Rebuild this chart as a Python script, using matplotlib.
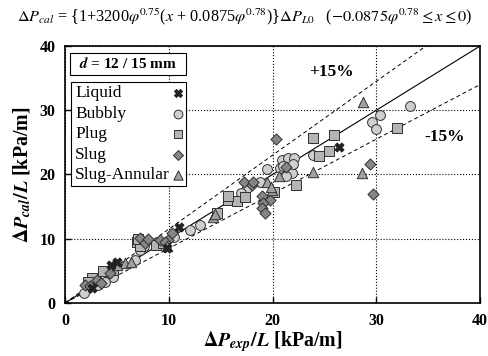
import matplotlib.pyplot as plt
from matplotlib.patches import Rectangle
import numpy as np

plt.rcParams['font.family'] = ['Liberation Serif', 'DejaVu Serif']
plt.rcParams['mathtext.fontset'] = 'stix'

# measured vs. calculated pressure gradient [kPa/m], by flow regime
liquid_exp = [26.4, 11.0, 9.8, 5.0, 4.4, 2.6]
liquid_cal = [24.3, 11.8, 8.5, 6.3, 5.9, 2.3]

bubbly_exp = [33.25, 30.3, 29.6, 30.0, 23.9, 20.9, 21.5, 22.1, 20.7, 21.85, 21.3,
              19.45, 18.8, 17.5, 17.0, 13.0, 12.05, 10.5, 7.2, 6.7, 4.65, 3.85,
              2.25, 2.6, 22.0, 21.0, 8.9, 1.8, 7.6, 3.2]
bubbly_cal = [30.7, 29.3, 28.2, 27.1, 23.05, 22.3, 22.5, 22.5, 21.0, 20.3, 19.7,
              20.9, 18.9, 17.9, 17.1, 12.15, 11.4, 10.3, 8.3, 6.7, 4.1, 3.3,
              2.3, 3.3, 21.7, 21.3, 9.5, 1.6, 8.9, 2.8]

plug_exp = [32.0, 23.9, 25.9, 25.4, 24.45, 22.3, 20.1, 15.7, 16.6, 17.35, 14.6,
            15.7, 6.9, 7.2, 8.8, 3.7, 2.6, 4.6, 9.4, 7.0, 2.2]
plug_cal = [27.15, 25.6, 26.2, 23.7, 22.9, 18.3, 17.2, 16.0, 15.8, 16.55, 14.0,
            16.6, 9.55, 8.8, 9.0, 4.9, 3.85, 5.2, 9.4, 10.0, 3.3]

slug_exp = [20.3, 21.3, 29.4, 29.7, 17.2, 18.0, 18.95, 19.75, 19.1, 18.95, 19.3,
            18.1, 9.95, 7.2, 7.7, 10.3, 9.15, 9.6, 4.3, 3.05, 1.9, 8.0, 3.5, 2.4]
slug_cal = [25.5, 21.2, 21.6, 16.9, 18.9, 18.4, 16.6, 16.0, 15.5, 14.75, 14.0,
            18.9, 9.8, 10.1, 9.3, 10.9, 9.8, 9.55, 4.6, 3.6, 2.8, 10.0, 3.1, 2.6]

sa_exp = [28.75, 23.9, 28.65, 20.65, 19.45, 19.9, 14.3, 14.45, 5.8, 6.4, 5.0, 9.8, 19.8]
sa_cal = [31.2, 20.45, 20.3, 19.7, 18.9, 17.6, 13.4, 13.9, 6.2, 6.4, 5.9, 8.8, 18.0]

regimes = ['Liquid', 'Bubbly', 'Plug', 'Slug', 'Slug-Annular']
# marker, size, face colour per regime
styles = {
    'Liquid': ('X', 42, '#222222'),
    'Bubbly': ('o', 50, '#cfcfcf'),
    'Plug': ('s', 46, '#b4b4b4'),
    'Slug': ('D', 32, '#858585'),
    'Slug-Annular': ('^', 56, '#a0a0a0'),
}
data = {
    'Liquid': (liquid_exp, liquid_cal),
    'Bubbly': (bubbly_exp, bubbly_cal),
    'Plug': (plug_exp, plug_cal),
    'Slug': (slug_exp, slug_cal),
    'Slug-Annular': (sa_exp, sa_cal),
}

fig = plt.figure(figsize=(4.89, 3.56), dpi=100)
ax = fig.add_axes([0.133, 0.149, 0.849, 0.722])

# 1:1 line and +/-15 % bands
line = np.array([0, 40])
ax.plot(line, line, color='black', lw=0.8, zorder=1)
ax.plot(line, 1.15 * line, color='black', lw=0.7, ls=(0, (4, 3)), zorder=1)
ax.plot(line, 0.85 * line, color='black', lw=0.7, ls=(0, (4, 3)), zorder=1)

for name in regimes:
    m, s, fc = styles[name]
    ec = fc if name == 'Liquid' else '#303030'
    ax.scatter(*data[name], marker=m, s=s, color=fc, edgecolor=ec, lw=0.7,
               zorder=3 if name == 'Liquid' else 2)

ax.set_xlim(0, 40)
ax.set_ylim(0, 40)
ax.set_xticks([0, 10, 20, 30, 40])
ax.set_yticks([0, 10, 20, 30, 40])
ax.grid(True, color='black', ls=':', lw=0.8)
ax.tick_params(direction='in', length=4, labelsize=11.5, width=1, pad=7)
for lab in ax.get_xticklabels() + ax.get_yticklabels():
    lab.set_fontweight('bold')
for sp in ax.spines.values():
    sp.set_linewidth(1.2)

ax.set_xlabel(r'$\mathbf{\Delta}\boldsymbol{P}_{\boldsymbol{exp}}\boldsymbol{/L}$ [kPa/m]',
              fontsize=14.3, fontweight='bold', labelpad=0)
ax.set_ylabel(r'$\mathbf{\Delta}\boldsymbol{P}_{\boldsymbol{cal}}\boldsymbol{/L}$ [kPa/m]',
              fontsize=14.3, fontweight='bold', labelpad=4)

ax.text(25.7, 36, '+15%', fontsize=12.5, fontweight='bold', ha='center', va='center')
ax.text(36.6, 25.9, '-15%', fontsize=12.5, fontweight='bold', ha='center', va='center')

# diameter box
ax.add_patch(Rectangle((0.012, 0.885), 0.28, 0.089, transform=ax.transAxes,
                       fc='white', ec='black', lw=0.8, zorder=5))
ax.text(0.152, 0.93, r'$\boldsymbol{d}$ = 12 / 15 mm', transform=ax.transAxes,
        fontsize=11, fontweight='bold', ha='center', va='center', zorder=6)

# legend: labels on the left, symbols on the right
ax.add_patch(Rectangle((0.014, 0.455), 0.278, 0.405, transform=ax.transAxes,
                       fc='white', ec='black', lw=0.8, zorder=5))
for i, name in enumerate(regimes):
    y = 0.816 - i * 0.080
    m, s, fc = styles[name]
    ec = fc if name == 'Liquid' else '#303030'
    ax.text(0.024, y, name, transform=ax.transAxes, fontsize=12.5,
            ha='left', va='center', zorder=6)
    ax.scatter([0.273], [y], transform=ax.transAxes, marker=m, s=s * 0.8, color=fc,
               edgecolor=ec, lw=0.7, zorder=6, clip_on=False)

fig.text(0.5, 0.952,
         r'$\Delta P_{cal}$ = {1+3200$\varphi^{0.75}$($x$ + 0.0875$\varphi^{0.78}$)}'
         r'$\Delta P_{L0}$   ($-0.0875\varphi^{0.78} \leq x \leq 0$)',
         fontsize=11.7, ha='center', va='center')

fig.savefig('out.png', dpi=100)
